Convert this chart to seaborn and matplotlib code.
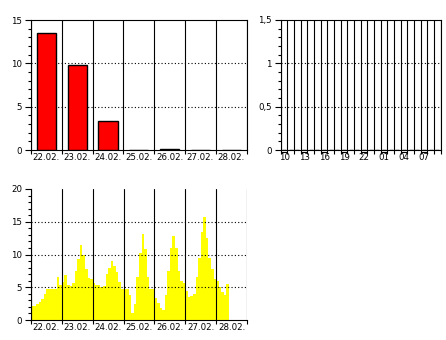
import numpy as np
import pandas as pd
import matplotlib
matplotlib.use("Agg")
import matplotlib.pyplot as plt
import matplotlib.transforms as mtransforms
import seaborn as sns
from matplotlib.ticker import FixedLocator, MultipleLocator, FuncFormatter

# ---------------- data ----------------
day_labels = ["22.02.", "23.02.", "24.02.", "25.02.", "26.02.", "27.02.", "28.02."]
daily_totals = [13.5, 9.8, 3.3, 0.0, 0.1, 0.0, 0.0]

hour_labels = ["10", "11", "12", "13", "14", "15", "16", "17", "18", "19", "20", "21",
               "22", "23", "00", "01", "02", "03", "04", "05", "06", "07", "08", "09"]
hourly_values = [0.0] * 24

# 2-hourly values starting 22.02. 00:00
two_hour_values = [
    2.1, 2.2, 2.4, 2.7, 3.2, 3.9, 4.7, 4.8, 4.8, 4.8, 6.6, 5.3,      # 22.02.
    5.8, 6.8, 5.3, 5.2, 5.6, 7.5, 9.3, 11.4, 10.0, 7.8, 6.4, 6.2,    # 23.02.
    5.6, 5.4, 5.3, 5.0, 5.2, 7.0, 7.9, 9.0, 8.2, 7.4, 5.8, 4.8,      # 24.02.
    4.8, 4.7, 3.8, 1.0, 2.5, 6.5, 10.3, 13.2, 10.8, 6.5, 4.8, 4.7,   # 25.02.
    3.3, 2.6, 1.8, 1.6, 3.8, 7.5, 11.0, 12.8, 11.0, 7.5, 6.0, 5.6,   # 26.02.
    4.4, 3.5, 3.6, 4.0, 6.5, 9.5, 13.5, 15.7, 12.5, 9.5, 7.8, 6.3,   # 27.02.
    6.0, 5.0, 4.3, 3.8, 5.5,                                         # 28.02.
]

# ---------------- style ----------------
sns.set_theme(style="white")
plt.rcParams["font.family"] = ["DejaVu Sans"]
plt.rcParams["font.size"] = 6.2
FS = 6.2
LW = 0.8
dotted = (0, (1, 2))

fig = plt.figure(figsize=(4.46, 3.40), dpi=100)
W, H = 446.0, 340.0


def box(l, t, r, b):
    return [l / W, 1 - b / H, (r - l) / W, (b - t) / H]


ax1 = fig.add_axes(box(31, 20, 246.5, 150))
ax2 = fig.add_axes(box(280.7, 20, 440.7, 150))
ax3 = fig.add_axes(box(31, 189, 247, 320))


def style_common(ax):
    for s in ax.spines.values():
        s.set_color("black")
        s.set_linewidth(LW)
    ax.tick_params(axis="y", which="major", direction="out", length=4.5, width=LW,
                   color="black", pad=2, labelsize=FS, labelcolor="black", left=True)
    ax.tick_params(axis="y", which="minor", direction="out", length=2.3, width=LW,
                   color="black", left=True)
    ax.tick_params(axis="x", which="major", direction="out", length=3, width=LW,
                   color="black", bottom=True, labelbottom=False)
    ax.tick_params(axis="x", which="minor", length=0, pad=2, labelsize=FS,
                   labelcolor="black", bottom=True)
    ax.grid(False)
    ax.set_xlabel("")
    ax.set_ylabel("")


def dotted_levels(ax, levels):
    for v in levels:
        ax.axhline(v, color="black", linewidth=LW, linestyle=dotted, zorder=2.5)


# ---------- top-left: daily totals ----------
df1 = pd.DataFrame({"day": day_labels, "value": daily_totals})
sns.barplot(data=df1, x="day", y="value", color="#FF0000", saturation=1,
            edgecolor="black", linewidth=1.0, width=0.62, ax=ax1, zorder=3)
ax1.set_xlim(-0.5, len(day_labels) - 0.5)
ax1.set_ylim(0, 15)
ax1.xaxis.set_major_locator(FixedLocator(np.arange(len(day_labels) + 1) - 0.5))
ax1.xaxis.set_minor_locator(FixedLocator(np.arange(len(day_labels))))
ax1.set_xticklabels(day_labels, minor=True)
ax1.yaxis.set_major_locator(FixedLocator([0, 5, 10, 15]))
ax1.yaxis.set_minor_locator(MultipleLocator(1))
style_common(ax1)
ax1.set_axisbelow(True)
ax1.xaxis.grid(True, which="major", color="black", linewidth=LW, linestyle="-")
dotted_levels(ax1, [5, 10])

# ---------- top-right: hourly ----------
df2 = pd.DataFrame({"hour": hour_labels, "value": hourly_values})
sns.barplot(data=df2, x="hour", y="value", color="black", saturation=1,
            edgecolor="black", linewidth=1.0, width=0.6, ax=ax2)
ax2.set_xlim(-0.5, len(hour_labels) - 0.5)
ax2.set_ylim(0, 1.5)
ax2.xaxis.set_major_locator(FixedLocator(np.arange(len(hour_labels) + 1) - 0.5))
shown = list(range(0, len(hour_labels), 3))
ax2.xaxis.set_minor_locator(FixedLocator(shown))
ax2.set_xticklabels([hour_labels[i] for i in shown], minor=True)
ax2.yaxis.set_major_locator(FixedLocator([0, 0.5, 1, 1.5]))
ax2.yaxis.set_minor_locator(MultipleLocator(0.1))
ax2.yaxis.set_major_formatter(FuncFormatter(lambda v, p: ("%g" % v).replace(".", ",")))
style_common(ax2)
ax2.set_axisbelow(True)
ax2.xaxis.grid(True, which="major", color="black", linewidth=LW, linestyle="-")
dotted_levels(ax2, [0.5, 1.0])
# small tick boxes under labelled hours
trans = mtransforms.blended_transform_factory(ax2.transData, ax2.transAxes)
for i in shown:
    ax2.plot([i - 0.5, i + 0.5], [-0.018, -0.018], color="black", linewidth=LW,
             transform=trans, clip_on=False, solid_capstyle="butt")

# ---------- bottom: 2-hourly step area ----------
n = len(two_hour_values)
edges = np.arange(n + 1) * 2 / 24.0
step_vals = list(two_hour_values) + [two_hour_values[-1]]
ax3.fill_between(edges, step_vals, 0, step="post", color="#FFFF00", linewidth=0, zorder=1)
ax3.set_xlim(0, len(day_labels))
ax3.set_ylim(0, 20)
ax3.xaxis.set_major_locator(FixedLocator(np.arange(len(day_labels) + 1)))
ax3.xaxis.set_minor_locator(FixedLocator(np.arange(len(day_labels)) + 0.5))
ax3.set_xticklabels(day_labels, minor=True)
ax3.yaxis.set_major_locator(FixedLocator([0, 5, 10, 15, 20]))
ax3.yaxis.set_minor_locator(MultipleLocator(1))
style_common(ax3)
ax3.spines["top"].set_visible(False)
ax3.spines["right"].set_visible(False)
ax3.set_axisbelow(False)
ax3.xaxis.grid(True, which="major", color="black", linewidth=LW, linestyle="-")
dotted_levels(ax3, [5, 10, 15])

fig.savefig("out.png", dpi=100, facecolor="white")
